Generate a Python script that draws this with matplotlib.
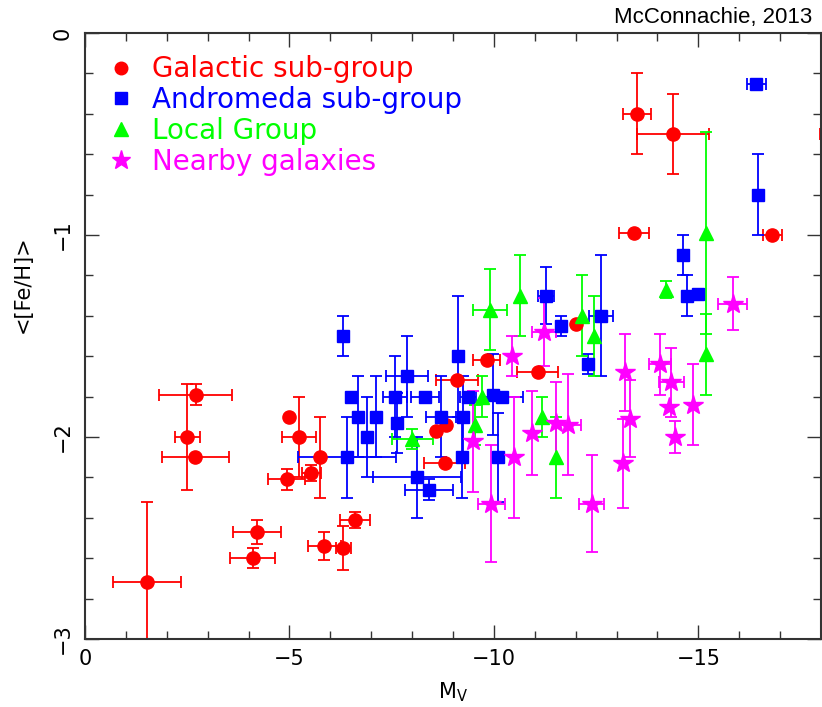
import matplotlib
matplotlib.use('Agg')
import matplotlib.pyplot as plt
from matplotlib.lines import Line2D
from matplotlib.ticker import MultipleLocator
import numpy as np

# Galactic sub-group (red circles): Mv, <[Fe/H]>, errors
gal_mv = [-1.51, -2.71, -2.50, -2.70, -5.00, -5.24, -5.75, -4.93, -5.53, -4.21, -4.10, -5.85, -6.32,
          -6.60, -9.09, -9.83, -11.07, -8.58, -8.84, -8.80, -12.02, -13.43, -13.50, -14.38, -16.81, -18.30]
gal_feh = [-2.72, -1.79, -2.00, -2.10, -1.90, -2.00, -2.10, -2.21, -2.18, -2.47, -2.60, -2.54, -2.55,
           -2.41, -1.72, -1.62, -1.68, -1.97, -1.94, -2.13, -1.44, -0.99, -0.40, -0.50, -1.00, -0.50]
gal_xerr = [0.83, 0.89, 0.31, 0.81, 0.0, 0.41, 0.0, 0.46, 0.23, 0.58, 0.55, 0.40, 0.18,
            0.37, 0.51, 0.33, 0.51, 0.0, 0.0, 0.50, 0.0, 0.36, 0.34, 0.87, 0.24, 0.33]
gal_yerr = [0.40, 0.05, 0.26, 0.0, 0.0, 0.20, 0.20, 0.05, 0.04, 0.06, 0.05, 0.07, 0.11,
            0.04, 0.0, 0.0, 0.0, 0.0, 0.0, 0.0, 0.0, 0.0, 0.20, 0.20, 0.0, 0.0]

# Andromeda sub-group (blue squares)
and_mv = [-6.32, -7.88, -7.58, -8.31, -6.50, -6.68, -7.11, -7.62, -6.90, -6.40, -8.12, -8.42, -8.70,
          -9.13, -9.25, -9.37, -9.21, -9.97, -10.20, -10.10, -11.28, -11.65, -12.62, -12.30, -14.63,
          -14.73, -15.00, -16.42, -16.46]
and_feh = [-1.50, -1.70, -1.80, -1.80, -1.80, -1.90, -1.90, -1.93, -2.00, -2.10, -2.20, -2.26, -1.90,
           -1.60, -1.90, -1.80, -2.10, -1.79, -1.80, -2.10, -1.30, -1.45, -1.40, -1.64, -1.10,
           -1.30, -1.29, -0.25, -0.80]
and_xerr = [0.0, 0.51, 0.30, 0.34, 0.0, 0.0, 0.0, 0.0, 0.0, 1.20, 1.08, 0.59, 0.37,
            0.0, 0.0, 0.20, 0.0, 0.0, 0.50, 0.0, 0.19, 0.10, 0.30, 0.10, 0.0,
            0.0, 0.10, 0.23, 0.0]
and_yerr = [0.10, 0.20, 0.20, 0.0, 0.0, 0.20, 0.20, 0.15, 0.20, 0.20, 0.20, 0.05, 0.20,
            0.30, 0.20, 0.0, 0.20, 0.20, 0.0, 0.22, 0.14, 0.05, 0.30, 0.05, 0.10,
            0.10, 0.0, 0.0, 0.20]

# Local Group (green triangles)
lg_mv = [-9.90, -10.64, -8.00, -9.70, -9.55, -11.17, -11.52, -12.15, -12.44, -14.22, -15.18, -15.18]
lg_feh = [-1.37, -1.30, -2.01, -1.80, -1.94, -1.90, -2.10, -1.40, -1.50, -1.27, -0.99, -1.59]
lg_xerr = [0.42, 0.0, 0.50, 0.0, 0.0, 0.0, 0.0, 0.0, 0.0, 0.0, 0.0, 0.0]
lg_yerr = [0.20, 0.20, 0.05, 0.10, 0.10, 0.10, 0.20, 0.20, 0.20, 0.04, 0.50, 0.20]

# Nearby galaxies (magenta stars)
nb_mv = [-11.23, -10.44, -9.50, -9.94, -10.48, -10.93, -11.52, -11.82, -12.39, -13.20, -13.34, -13.15,
         -14.06, -14.34, -14.29, -14.43, -14.86, -15.84]
nb_feh = [-1.48, -1.60, -2.02, -2.33, -2.10, -1.98, -1.93, -1.94, -2.33, -1.68, -1.91, -2.13,
          -1.64, -1.73, -1.85, -2.00, -1.84, -1.34]
nb_xerr = [0.29, 0.0, 0.0, 0.33, 0.0, 0.0, 0.0, 0.30, 0.30, 0.0, 0.0, 0.0,
           0.27, 0.30, 0.0, 0.0, 0.0, 0.35]
nb_yerr = [0.17, 0.10, 0.25, 0.29, 0.30, 0.21, 0.20, 0.25, 0.24, 0.19, 0.19, 0.22,
           0.15, 0.17, 0.0, 0.08, 0.20, 0.13]

labels = ['Galactic sub-group', 'Andromeda sub-group', 'Local Group', 'Nearby galaxies']
colors = ['#ff0000', '#0000ff', '#00ff00', '#ff00ff']
markers = ['o', 's', '^', '*']
msizes = [9.5, 8.5, 10, 15]


def err(a):
    a = np.asarray(a, dtype=float)
    return np.where(a > 0, a, np.nan)


fig = plt.figure(figsize=(8.22, 7.07), dpi=100)
ax = fig.add_axes([85 / 822, 1 - 639 / 707, 736 / 822, 606 / 707])

groups = [(gal_mv, gal_feh, gal_xerr, gal_yerr),
          (and_mv, and_feh, and_xerr, and_yerr),
          (lg_mv, lg_feh, lg_xerr, lg_yerr),
          (nb_mv, nb_feh, nb_xerr, nb_yerr)]
for (mv, feh, xe, ye), c, m, ms in zip(groups, colors, markers, msizes):
    ax.errorbar(mv, feh, xerr=err(xe), yerr=err(ye), fmt=m, color=c, ms=ms, mec=c,
                elinewidth=1.3, capsize=4, capthick=1.3, clip_on=True)

ax.set_xlim(0, -18)
ax.set_ylim(-3, 0)
ax.xaxis.set_major_locator(MultipleLocator(5))
ax.xaxis.set_minor_locator(MultipleLocator(1))
ax.yaxis.set_major_locator(MultipleLocator(1))
ax.yaxis.set_minor_locator(MultipleLocator(0.2))
ax.tick_params(which='both', direction='in', top=True, right=True, width=1, color='#333333')
ax.tick_params(which='major', length=10, labelsize=15, pad=7)
ax.tick_params(which='minor', length=5.5)
ax.tick_params(axis='y', pad=9)
plt.setp(ax.get_yticklabels(), rotation=90, va='center')
for s in ax.spines.values():
    s.set_linewidth(1.5)
    s.set_color('#333333')

ax.set_xticks([0, -5, -10, -15])
ax.set_xticklabels(['0', '\u22125', '\u221210', '\u221215'])
ax.set_xlabel(r'M$_{\rm V}$', fontsize=15)
ax.xaxis.set_label_coords(0.5, -0.068)
ax.set_ylabel('<[Fe/H]>', fontsize=15)
ax.yaxis.set_label_coords(-0.071, 0.586)

handles = [Line2D([], [], ls='none', marker=m, color=c, ms=ms * 0.95)
           for c, m, ms in zip(colors, markers, msizes)]
leg = ax.legend(handles, labels, loc='upper left', frameon=False, fontsize=20,
                handlelength=1.0, handletextpad=0.6, labelspacing=0.1,
                borderpad=0.3, borderaxespad=0.5)
for t, c in zip(leg.get_texts(), colors):
    t.set_color(c)

fig.text(812 / 822, 1 - 18 / 707, 'McConnachie, 2013', ha='right', va='center',
         fontsize=16, family='Liberation Sans')

fig.savefig('out.png', dpi=100)
